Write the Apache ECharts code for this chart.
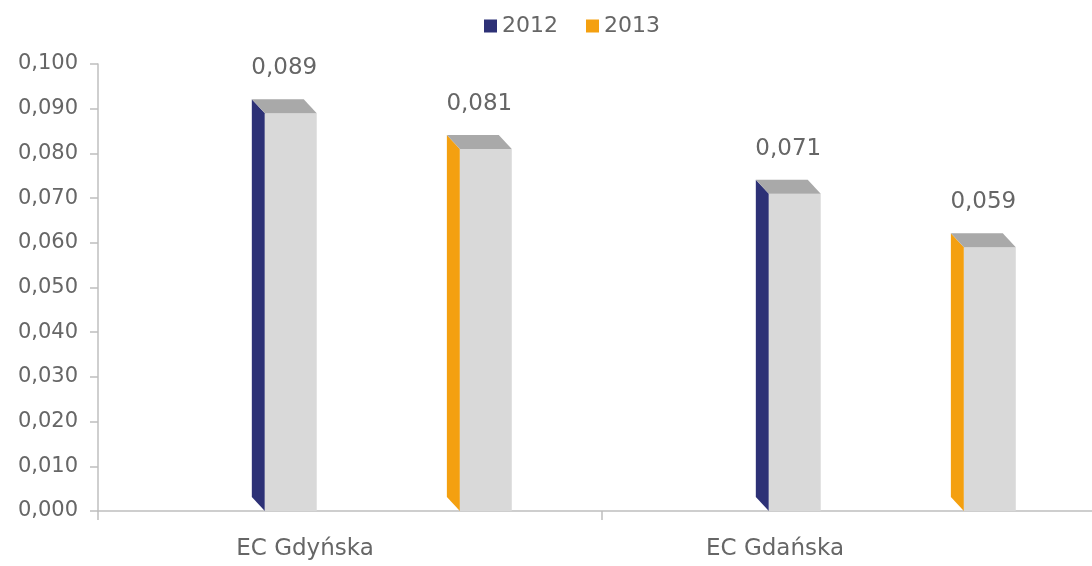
<!DOCTYPE html>
<html>
<head>
<meta charset="utf-8">
<script src="https://cdn.jsdelivr.net/npm/echarts@6/dist/echarts.min.js"></script>
<style>html,body{margin:0;padding:0;background:#fff;overflow:hidden;width:1092px;height:566px}#c{width:1106px;height:566px}</style>
</head>
<body>
<div id="c"></div>
<script>
const categories = ['EC Gdyńska', 'EC Gdańska'];
const values2012 = [0.089, 0.071];
const values2013 = [0.081, 0.059];
const seriesNames = ['2012', '2013'];
const yTicks = { min: 0, max: 0.1, interval: 0.01 };

const FONT = '"DejaVu Sans", "Open Sans", sans-serif';
const TXT = '#666666';
const fmt = v => v.toFixed(3).replace('.', ',');

function makeRender(offsetFrac, color) {
  return function (params, api) {
    const ci = api.value(0), v = api.value(1);
    const top = api.coord([ci, v]);
    const base = api.coord([ci, 0]);
    const w = api.size([1, 0])[0];
    const fl = top[0] + offsetFrac * w;
    const fw = 0.103 * w;
    const fr = fl + fw;
    const dx = 13, dy = 14;
    const ty = top[1], by = base[1];
    return {
      type: 'group',
      children: [
        { type: 'polygon', shape: { points: [[fl - dx, ty - dy], [fl, ty], [fl, by], [fl - dx, by - dy]] }, style: { fill: color } },
        { type: 'rect', shape: { x: fl, y: ty, width: fw, height: by - ty }, style: { fill: '#d9d9d9' } },
        { type: 'polygon', shape: { points: [[fl - dx, ty - dy], [fr - dx, ty - dy], [fr, ty], [fl, ty]] }, style: { fill: '#a9a9a9' } },
        { type: 'text', style: { text: fmt(v), x: (fl - dx + fr) / 2, y: ty - 45, align: 'center', verticalAlign: 'middle', fill: TXT, font: '23px ' + FONT } }
      ]
    };
  };
}

const colors = ['#2d3176', '#f4a010'];
const chart = echarts.init(document.getElementById('c'));
chart.setOption({
  animation: false,
  legend: {
    data: seriesNames,
    left: 479, top: 10,
    icon: 'rect', itemWidth: 13, itemHeight: 13, itemGap: 28,
    textStyle: { fontFamily: FONT, fontSize: 22, color: TXT, padding: [0, 0, 0, 0] }
  },
  grid: { left: 98, top: 64, right: 0, bottom: 55, containLabel: false },
  xAxis: {
    type: 'category', data: categories, boundaryGap: true,
    axisLine: { lineStyle: { color: '#bfbfbf', width: 1.5 } },
    axisTick: { show: true, length: 9, lineStyle: { color: '#bfbfbf', width: 1.5 } },
    axisLabel: {
      margin: 27,
      formatter: (val, idx) => idx === 0 ? '{a|' + val + '}' : '{b|' + val + '}',
      rich: {
        a: { fontFamily: FONT, fontSize: 23, color: TXT, padding: [0, 90, 0, 0] },
        b: { fontFamily: FONT, fontSize: 23, color: TXT, padding: [0, 158, 0, 0] }
      }
    }
  },
  yAxis: {
    type: 'value', min: yTicks.min, max: yTicks.max, interval: yTicks.interval,
    axisLine: { show: true, lineStyle: { color: '#bfbfbf', width: 1.5 } },
    axisTick: { show: true, length: 8, lineStyle: { color: '#bfbfbf', width: 1.5 } },
    splitLine: { show: false },
    axisLabel: { margin: 20, fontFamily: FONT, fontSize: 21, color: TXT, formatter: v => fmt(v) }
  },
  series: [
    { name: seriesNames[0], type: 'custom', itemStyle: { color: colors[0] }, renderItem: makeRender(-0.169, colors[0]), data: values2012.map((v, i) => [i, v]), encode: { x: 0, y: 1 } },
    { name: seriesNames[1], type: 'custom', itemStyle: { color: colors[1] }, renderItem: makeRender(0.218, colors[1]), data: values2013.map((v, i) => [i, v]), encode: { x: 0, y: 1 } }
  ]
});
</script>
</body>
</html>
